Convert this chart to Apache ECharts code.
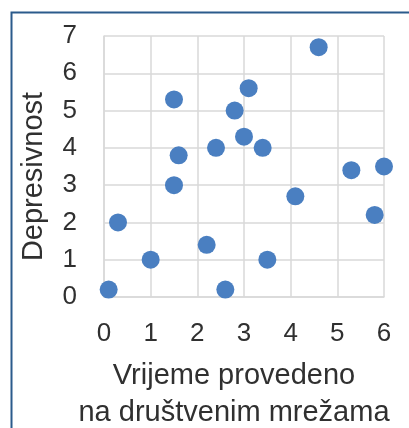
<!DOCTYPE html>
<html>
<head>
<meta charset="utf-8">
<script src="https://cdn.jsdelivr.net/npm/echarts@6/dist/echarts.min.js"></script>
<style>
  html, body { margin: 0; padding: 0; background: #fff; }
</style>
</head>
<body>
<div id="scatterChart" style="width: 409px;height:428px;"></div>
<script>
// 数据
let vrijeme = [4.6, 3.1, 1.5, 2.8, 3.0, 2.4, 3.4, 1.6, 5.3, 6.0, 1.5, 4.1, 5.8, 0.3, 2.2, 1.0, 3.5, 0.1, 2.6]
let depresivnost = [6.7, 5.6, 5.3, 5.0, 4.3, 4.0, 4.0, 3.8, 3.4, 3.5, 3.0, 2.7, 2.2, 2.0, 1.4, 1.0, 1.0, 0.2, 0.2]
let xNaziv = 'Vrijeme provedeno\nna društvenim mrežama'
let yNaziv = 'Depresivnost'

let tocke = []
for (let i = 0; i < vrijeme.length; i++) {
  tocke.push([vrijeme[i], depresivnost[i]])
}

let textColor = '#303030'
let gridColor = '#d9d9d9'

let scatterChart = echarts.init(document.getElementById('scatterChart'))
let option = {
  animation: false,
  graphic: [{
    // okvir
    type: 'rect',
    left: 9,
    top: 10,
    shape: { width: 430, height: 440 },
    style: { fill: 'none', stroke: '#2b5b8c', lineWidth: 2 }
  }],
  grid: {
    left: 104,
    right: 25,
    top: 36,
    bottom: 131,
    outerBoundsMode: 'none'
  },
  xAxis: {
    type: 'value',
    min: 0,
    max: 6,
    interval: 1,
    name: xNaziv,
    nameLocation: 'middle',
    nameGap: 60,
    nameTextStyle: {
      fontFamily: 'Liberation Sans',
      fontSize: 29,
      color: textColor,
      lineHeight: 37,
      padding: [0, 20, 0, 0]
    },
    axisLine: { show: true, lineStyle: { color: gridColor, width: 1.5 } },
    axisTick: { show: false },
    axisLabel: {
      fontFamily: 'Liberation Sans',
      fontSize: 26,
      color: textColor,
      margin: 24
    },
    splitLine: { show: true, lineStyle: { color: gridColor, width: 1.5 } }
  },
  yAxis: {
    type: 'value',
    min: 0,
    max: 7,
    interval: 1,
    name: yNaziv,
    nameLocation: 'middle',
    nameGap: 56,
    nameTextStyle: {
      fontFamily: 'Liberation Sans',
      fontSize: 29,
      color: textColor,
      padding: [0, 20, 0, 0]
    },
    axisLine: { show: true, lineStyle: { color: gridColor, width: 1.5 } },
    axisTick: { show: false },
    axisLabel: {
      fontFamily: 'Liberation Sans',
      fontSize: 26,
      color: textColor,
      margin: 27
    },
    splitLine: { show: true, lineStyle: { color: gridColor, width: 1.5 } }
  },
  series: [{
    type: 'scatter',
    data: tocke,
    symbolSize: 18,
    itemStyle: { color: '#4a7fc1', opacity: 1 }
  }]
}
scatterChart.setOption(option)
</script>
</body>
</html>
